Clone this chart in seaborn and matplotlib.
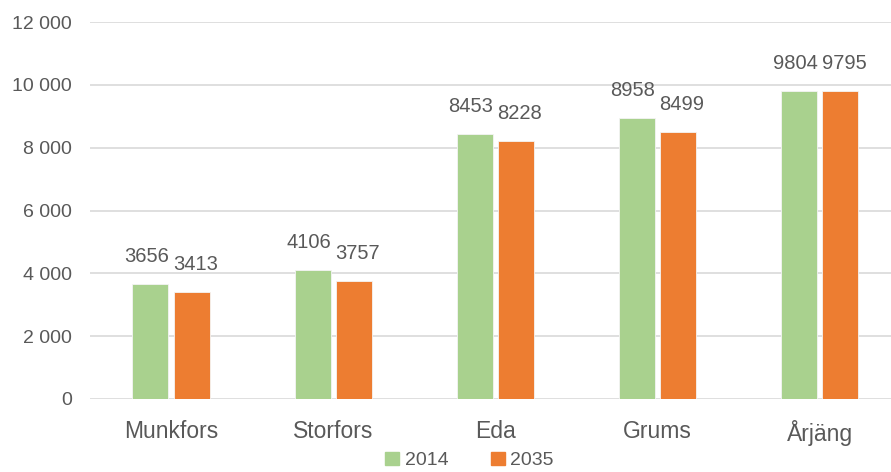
import matplotlib.pyplot as plt
import matplotlib.ticker as mticker
import pandas as pd
import seaborn as sns

kommuner = ['Munkfors', 'Storfors', 'Eda', 'Grums', 'Årjäng']
befolkning_2014 = [3656, 4106, 8453, 8958, 9804]
befolkning_2035 = [3413, 3757, 8228, 8499, 9795]
ar = ['2014', '2035']
farger = ['#a9d18e', '#ed7d31']

df = pd.DataFrame({
    'Kommun': kommuner * 2,
    'År': [ar[0]] * len(kommuner) + [ar[1]] * len(kommuner),
    'Befolkning': befolkning_2014 + befolkning_2035,
})

sns.set_style('white')
plt.rcParams['font.family'] = ['Liberation Sans', 'DejaVu Sans']
grå = '#595959'

fig = plt.figure(figsize=(8.91, 4.72), dpi=100)
ax = fig.add_axes([0.101, 0.1547, 0.899, 0.7983])

sns.barplot(data=df, x='Kommun', y='Befolkning', hue='År', palette=farger,
            saturation=1, width=0.51, gap=0.13, ax=ax, legend=False, zorder=3,
            edgecolor='#f4f4f4', linewidth=0.6)

etiketter = [ax.bar_label(c, fmt='%d', padding=13, fontsize=14.5, color=grå)
             for c in ax.containers]

ax.set_ylim(0, 12000)
ax.set_xlim(-0.5, 4.44)
ax.yaxis.set_major_locator(mticker.MultipleLocator(2000))
ax.yaxis.set_major_formatter(mticker.FuncFormatter(lambda v, p: f'{v:,.0f}'.replace(',', ' ')))
ax.grid(axis='y', color='#d9d9d9', linewidth=1.2, zorder=0)
ax.set_xlabel('')
ax.set_ylabel('')
ax.tick_params(axis='y', length=0, pad=13, labelsize=14, labelcolor=grå)
ax.tick_params(axis='x', length=0, pad=15, labelsize=16.5, labelcolor=grå)
sns.despine(ax=ax, left=True, bottom=True)

# sära på etiketter som krockar (som Excel gör)
fig.canvas.draw()
r = fig.canvas.get_renderer()
for t1, t2 in zip(*etiketter):
    b1 = t1.get_window_extent(r)
    b2 = t2.get_window_extent(r)
    overlapp = b1.x1 - b2.x0 + 4
    if overlapp > 0 and b1.y0 < b2.y1 and b2.y0 < b1.y1:
        dx = overlapp / 2 * 72 / fig.dpi
        t1.xyann = (t1.xyann[0] - dx, t1.xyann[1])
        t2.xyann = (t2.xyann[0] + dx, t2.xyann[1])

handles = [plt.Rectangle((0, 0), 1, 1, color=c) for c in farger]
fig.legend(handles, ar, loc='center', bbox_to_anchor=(0.527, 0.024), ncol=2,
           frameon=False, fontsize=14, labelcolor=grå, handlelength=0.7,
           handleheight=0.7, handletextpad=0.3, columnspacing=2.2)

fig.savefig('out.png', dpi=100)
